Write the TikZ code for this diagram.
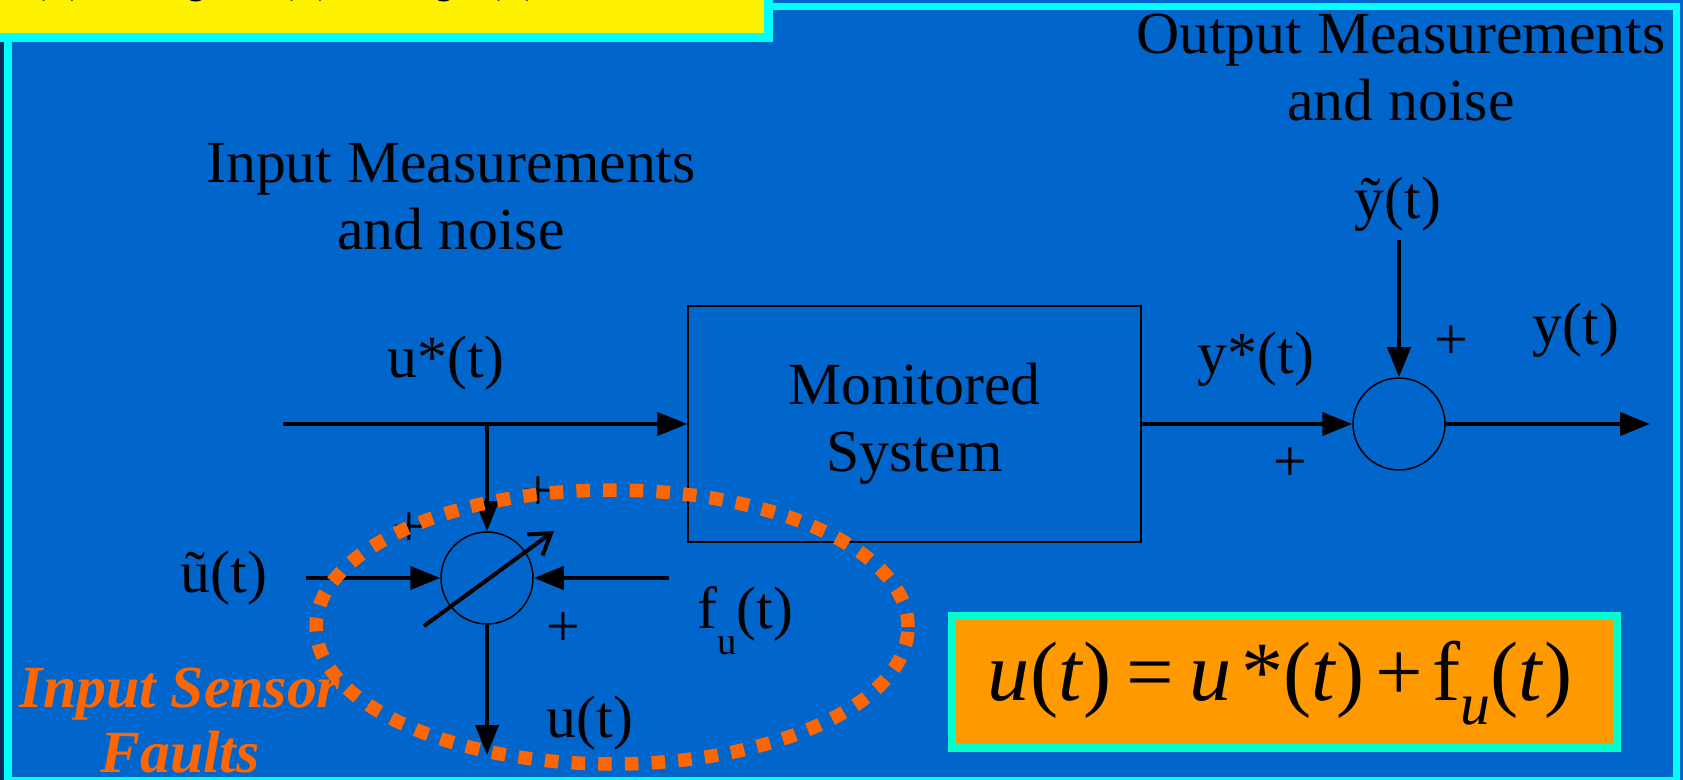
\documentclass[tikz,border=0pt]{standalone}
\usepackage{fontspec}
\setmainfont{Liberation Serif}
\usetikzlibrary{arrows.meta}

\definecolor{slideblue}{HTML}{0066CC}
\definecolor{framecyan}{HTML}{00FFFF}
\definecolor{edgenavy}{HTML}{0A2D5C}
\definecolor{faultorange}{HTML}{FF6600}
\definecolor{eqorange}{HTML}{FF9900}
\definecolor{eqframe}{HTML}{00FFCC}

\begin{document}
\begin{tikzpicture}[
        >={Triangle[length=0.3cm,width=0.23cm]},
        lbl/.style={font=\fontsize{17}{19}\selectfont, inner sep=0pt},
        sig/.style={line width=0.04cm},
        junction/.style={circle, draw, line width=0.015cm, minimum size=0.92cm, inner sep=0pt},
    ]
                \useasboundingbox (0,0) rectangle (16.83,-7.80);
                \fill[slideblue] (0,0) rectangle (16.83,-7.80);
                \fill[edgenavy] (0,0) rectangle (0.04,-7.80);
                \draw[framecyan, line width=0.075cm] (0.08,-0.065) rectangle (16.765,-7.81);

                \begin{scope}
                    \clip (0,0) rectangle (7.73,-0.43);
                    \draw[framecyan, fill=yellow, line width=0.09cm] (-0.2,0.2) rectangle (7.685,-0.38);
                    \node[anchor=base west, inner sep=0pt, font=\fontsize{23}{26}\selectfont\itshape] (title) at (-0.10,0.15) {y(t) = y*(t) + ỹ(t)};
                \end{scope}

                \node[draw=eqframe, fill=eqorange, line width=0.08cm, minimum width=6.65cm, minimum height=1.325cm, inner sep=0pt] (eqbox) at (12.845,-6.82) {};
                \node[anchor=base, inner sep=0pt, font=\fontsize{24}{28}\selectfont] (eq) at (12.80,-7.00) {\textit{u}(\textit{t})\hspace{0.18em}=\hspace{0.18em}\textit{u}\hspace{0.12em}*(\textit{t})\hspace{0.12em}+\hspace{0.12em}f\raisebox{-0.29em}{\fontsize{17}{17}\selectfont\textit{u}}(\textit{t})};

                \node[draw, line width=0.015cm, minimum width=4.53cm, minimum height=2.36cm, align=center, lbl] (sys) at (9.145,-4.24) {Monitored\\System};
                \node[junction] (vsum) at (4.87,-5.78) {};
                \node[junction] (sum) at (13.99,-4.24) {};

                \coordinate (uin) at (2.83,-4.24);
                \coordinate (tap) at (vsum |- uin);
                \coordinate (unoise) at (3.06,-5.78);
                \coordinate (fault) at (6.69,-5.78);
                \coordinate (uout) at (4.87,-7.55);
                \coordinate (knoba) at (4.24,-6.26);
                \coordinate (knobb) at (5.54,-5.31);
                \coordinate (ynoise) at (13.99,-2.40);
                \coordinate (yout) at (16.50,-4.24);

                \draw[sig,->] (uin) to (sys);
                \draw[sig,->] (tap) to (vsum);
                \draw[sig,->] (unoise) to (vsum);
                \draw[sig,->] (fault) to (vsum);
                \draw[sig,->] (vsum) to (uout);
                \draw[sig,-{Straight Barb[length=0.2cm,width=0.26cm]}] (knoba) to (knobb);
                \draw[sig,->] (sys) to (sum);
                \draw[sig,->] (ynoise) to (sum);
                \draw[sig,->] (sum) to (yout);

                \node[lbl, anchor=north, align=center] (inmeas) at (4.51,-1.43) {Input Measurements\\and noise};
                \node[lbl, anchor=north, align=center] (outmeas) at (14.01,-0.13) {Output Measurements\\and noise};
                \node[lbl, anchor=base] (ustar) at (4.46,-3.78) {u*(t)};
                \node[lbl, anchor=base] (ystar) at (12.56,-3.74) {y*(t)};
                \node[lbl, anchor=base] (ytilde) at (13.98,-2.19) {ỹ(t)};
                \node[lbl, anchor=base] (ylab) at (15.76,-3.45) {y(t)};
                \node[lbl, anchor=base] (utilde) at (2.24,-5.92) {ũ(t)};
                \node[lbl, anchor=base west] (flab) at (6.97,-6.28) {f\raisebox{-0.45em}{\fontsize{11}{11}\selectfont u}(t)};
                \node[lbl, anchor=base] (ulab) at (5.90,-7.37) {u(t)};

                \node[lbl] (plusa) at (4.09,-5.30) {+};
                \node[lbl] (plusb) at (5.38,-4.94) {+};
                \node[lbl] (plusc) at (5.63,-6.30) {+};
                \node[lbl] (plusd) at (12.90,-4.65) {+};
                \node[lbl] (pluse) at (14.51,-3.43) {+};

                \draw[faultorange, line width=0.135cm, dash pattern=on 0.135cm off 0.132cm] (6.12,-6.27) ellipse [x radius=2.96cm, y radius=1.37cm];
                \node[lbl, anchor=north, align=center, text=faultorange, font=\fontsize{17}{18.5}\selectfont\bfseries\itshape] (faults) at (1.80,-6.67) {Input Sensor\\Faults};
            \end{tikzpicture}
\end{document}
